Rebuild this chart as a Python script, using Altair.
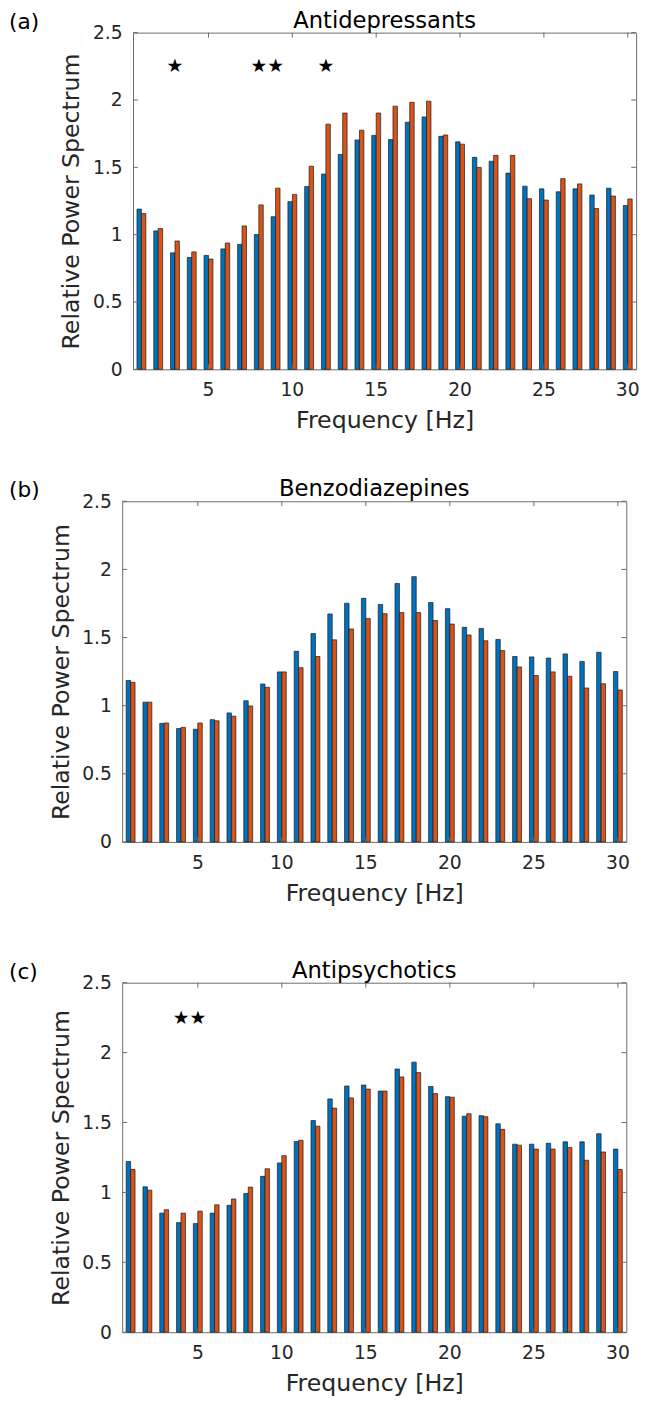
import altair as alt
import pandas as pd

freqs = list(range(1, 31))
tick_freqs = [5, 10, 15, 20, 25, 30]
y_ticks = [0, 0.5, 1, 1.5, 2, 2.5]

a_blue = [1.19, 1.028, 0.865, 0.831, 0.846, 0.894, 0.928, 1.001, 1.133, 1.245,
          1.357, 1.450, 1.596, 1.703, 1.737, 1.706, 1.835, 1.874, 1.730, 1.689,
          1.574, 1.545, 1.457, 1.360, 1.340, 1.318, 1.340, 1.294, 1.345, 1.216]
a_orange = [1.157, 1.045, 0.953, 0.872, 0.819, 0.938, 1.065, 1.221, 1.345, 1.299,
            1.508, 1.820, 1.903, 1.776, 1.903, 1.954, 1.983, 1.991, 1.740, 1.672,
            1.499, 1.589, 1.589, 1.267, 1.257, 1.416, 1.377, 1.194, 1.287, 1.265]
a_stars = [3, 8, 9, 12]

b_blue = [1.185, 1.026, 0.870, 0.832, 0.827, 0.897, 0.947, 1.036, 1.159, 1.248,
          1.399, 1.529, 1.673, 1.752, 1.788, 1.743, 1.897, 1.947, 1.757, 1.712,
          1.575, 1.567, 1.486, 1.361, 1.358, 1.349, 1.380, 1.325, 1.392, 1.250]
b_orange = [1.171, 1.026, 0.873, 0.841, 0.873, 0.889, 0.923, 0.998, 1.135, 1.248,
            1.279, 1.361, 1.483, 1.563, 1.639, 1.675, 1.683, 1.683, 1.625, 1.599,
            1.519, 1.476, 1.404, 1.284, 1.221, 1.248, 1.216, 1.130, 1.161, 1.115]
b_stars = []

c_blue = [1.221, 1.040, 0.852, 0.784, 0.777, 0.852, 0.908, 0.993, 1.115, 1.211,
          1.364, 1.514, 1.669, 1.761, 1.768, 1.725, 1.883, 1.932, 1.758, 1.685,
          1.545, 1.549, 1.491, 1.345, 1.345, 1.352, 1.362, 1.362, 1.420, 1.310]
c_orange = [1.164, 1.016, 0.876, 0.852, 0.866, 0.911, 0.953, 1.038, 1.169, 1.263,
            1.373, 1.474, 1.603, 1.676, 1.739, 1.725, 1.826, 1.857, 1.707, 1.681,
            1.563, 1.542, 1.451, 1.338, 1.310, 1.310, 1.322, 1.230, 1.289, 1.164]
c_stars = [4, 5]

star_level = 2.25

BLUE = "#0072BD"
ORANGE = "#D95319"
FONT = "DejaVu Sans"
AXC = "#262626"
FRAME = "#6b6b6b"


def panel(letter, title, blue, orange, stars, width, height, spacer_w):
    df = pd.DataFrame({
        "freq": freqs * 2,
        "grp": ["g1"] * len(freqs) + ["g2"] * len(freqs),
        "value": blue + orange,
    })
    x = alt.X(
        "freq:O",
        scale=alt.Scale(paddingInner=0.47, paddingOuter=0.235),
        axis=alt.Axis(values=tick_freqs, labelAngle=0, tickSize=0, domain=False,
                      labelPadding=12, title="Frequency [Hz]", titleY=59,
                      titleFontSize=24, titleBaseline="alphabetic", grid=False),
    )
    y = alt.Y(
        "value:Q",
        scale=alt.Scale(domain=[0, 2.5], nice=False, zero=True),
        axis=alt.Axis(values=y_ticks, format="~g", tickSize=0, domain=False,
                      grid=False, labelPadding=11, title="Relative Power Spectrum",
                      titleFontSize=24, titleX=-55, titleBaseline="alphabetic",
                      titleAngle=-90),
    )
    bars = alt.Chart(df).mark_bar(stroke="#1a1a1a", strokeWidth=0.7).encode(
        x=x,
        xOffset=alt.XOffset("grp:N", scale=alt.Scale(paddingInner=0, paddingOuter=0)),
        y=y,
        color=alt.Color("grp:N", scale=alt.Scale(domain=["g1", "g2"], range=[BLUE, ORANGE]),
                        legend=None),
    )
    xt = pd.DataFrame({"freq": tick_freqs})
    yt = pd.DataFrame({"value": y_ticks})
    tick_bottom = alt.Chart(xt).mark_rule(color=FRAME, strokeWidth=1).encode(
        x="freq:O", y=alt.value(height), y2=alt.value(height - 5))
    tick_top = alt.Chart(xt).mark_rule(color=FRAME, strokeWidth=1).encode(
        x="freq:O", y=alt.value(0), y2=alt.value(5))
    tick_left = alt.Chart(yt).mark_rule(color=FRAME, strokeWidth=1).encode(
        y="value:Q", x=alt.value(0), x2=alt.value(5))
    tick_right = alt.Chart(yt).mark_rule(color=FRAME, strokeWidth=1).encode(
        y="value:Q", x=alt.value(width - 5), x2=alt.value(width))
    layers = [bars, tick_bottom, tick_top, tick_left, tick_right]
    if stars:
        sd = pd.DataFrame({"freq": stars, "value": [star_level] * len(stars), "s": ["★"] * len(stars)})
        layers.append(alt.Chart(sd).mark_text(font="DejaVu Sans", fontSize=19, color="black",
                                              baseline="middle").encode(
            x="freq:O", y="value:Q", text="s:N"))
    td = pd.DataFrame({"t": [title]})
    layers.append(alt.Chart(td).mark_text(font=FONT, fontSize=23, color="black", align="center",
                                          baseline="alphabetic").encode(
        x=alt.value(width / 2), y=alt.value(-5), text="t:N"))
    main = alt.layer(*layers).properties(width=width, height=height)

    ld = pd.DataFrame({"t": [letter]})
    spacer = alt.Chart(ld).mark_text(font=FONT, fontSize=22, color="black", align="left",
                                     baseline="middle").encode(
        x=alt.value(0), y=alt.value(-11), text="t:N"
    ).properties(width=spacer_w, height=1,
                 view=alt.ViewBackground(stroke="transparent", fill="transparent"))
    return alt.hconcat(spacer, main, spacing=0, bounds="flush")


pa = panel("(a)", "Antidepressants", a_blue, a_orange, a_stars, 511, 342, 126)
pb = panel("(b)", "Benzodiazepines", b_blue, b_orange, b_stars, 512, 346, 115)
pc = panel("(c)", "Antipsychotics", c_blue, c_orange, c_stars, 512, 355, 115)

top = alt.vconcat(pa, pb, spacing=45)
chart = alt.vconcat(top, pc, spacing=54).properties(
    padding={"left": 0, "top": -10, "right": 5, "bottom": 5}
).configure_view(stroke=FRAME, strokeWidth=1).configure_axis(
    labelFont=FONT, labelFontSize=19, labelColor=AXC,
    titleFont=FONT, titleColor=AXC, titleFontWeight="normal",
)

chart.save("out.html", embed_options={"renderer": "svg", "actions": False})
